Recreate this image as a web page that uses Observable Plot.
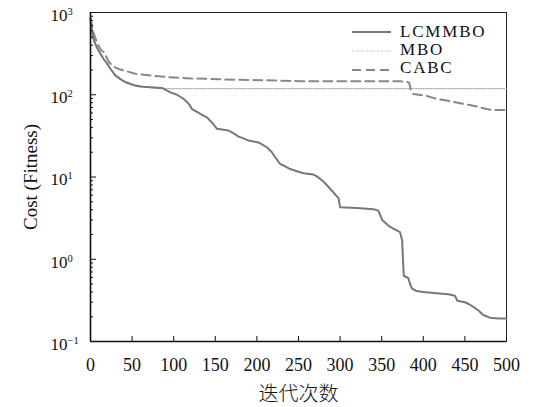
<!DOCTYPE html>
<html>
<head>
<meta charset="utf-8">
<script src="https://cdn.jsdelivr.net/npm/d3@7"></script>
<script src="https://cdn.jsdelivr.net/npm/@observablehq/plot@0.6"></script>
<style>
  html, body { margin: 0; padding: 0; background: #fff; }
</style>
</head>
<body>
<div id="chart"></div>
<script>
// ---- data ----
const lcmmboX = [0,2,5,8,12,16,20,25,30,36,42,48,54,62,72,86,96,104,112,118,122,128,132,140,146,152,166,172,178,184,190,202,212,218,222,228,234,240,250,256,268,272,276,282,288,292,296,298,300,320,340,346,348,350.5,354,358,364,372,374.5,376.5,382,384,386.5,392,400,416,430,438,441,450,456,461,466,472,480,490,500];
const lcmmboY = [850,550,430,370,314,270,238,200,171,155,142,135,129,125,123,121,107,100,89,78,67,62,58.6,53,46,38.5,36.7,34,31,29.5,27.7,26.3,23,20,17.4,14.4,13.5,12.5,11.6,11.1,10.7,10.2,9.5,8.4,7.2,6.5,5.8,5.6,4.3,4.2,4.05,3.9,3.5,3.0,2.8,2.57,2.35,2.14,1.7,0.63,0.59,0.5,0.44,0.41,0.40,0.385,0.375,0.36,0.313,0.30,0.28,0.26,0.24,0.21,0.195,0.19,0.19];

const mboX = [0,3,8,14,20,26,32,40,50,60,70,80,500];
const mboY = [820,520,380,290,235,195,168,148,135,128,124,119,119];

const cabcX = [0,3,6,10,13,16,19,22,26,30,34,44,54,64,74,94,114,140,180,220,252,300,372,380,383,385,388,404,410,416,428,436,444,456,468,476,481,500];
const cabcY = [850,600,480,390,345,330,290,250,228,214,206,192,180,175,171,163,159,156,152,149,146,146,146,144,140,115,102,97,93,89,85,82,79,75,70.6,67,65.5,65];

const xTicks = [0,50,100,150,200,250,300,350,400,450,500];
const yDecades = [0.1,1,10,100,1000];
const yExpLabels = ["\u22121","0","1","2","3"];
const yMinor = [];
for (const d of [0.1,1,10,100]) for (let k = 2; k <= 9; k++) yMinor.push(+(d*k).toPrecision(3));

const seriesNames = ["LCMMBO","MBO","CABC"];
const seriesStyles = {
  LCMMBO: {stroke: "#777", strokeWidth: 2, dash: null},
  MBO: {stroke: "#aaa", strokeWidth: 1.2, dash: "1,1.5"},
  CABC: {stroke: "#888", strokeWidth: 2, dash: "9,5"}
};

const toRows = (xs, ys) => xs.map((x, i) => ({x, y: ys[i]}));
const rows = {
  LCMMBO: toRows(lcmmboX, lcmmboY),
  MBO: toRows(mboX, mboY),
  CABC: toRows(cabcX, cabcY)
};

const serif = "Liberation Serif, Times New Roman, DejaVu Serif, serif";

const chart = Plot.plot({
  width: 533,
  height: 407,
  marginLeft: 90,
  marginRight: 27,
  marginTop: 12,
  marginBottom: 66,
  style: {fontFamily: serif, background: "#fff", color: "#111"},
  x: {domain: [0, 500]},
  y: {type: "log", domain: [0.1, 1000]},
  marks: [
    Plot.frame({stroke: "#222", strokeWidth: 1}),
    // lines
    Plot.line(rows.MBO, {x: "x", y: "y", stroke: seriesStyles.MBO.stroke, strokeWidth: seriesStyles.MBO.strokeWidth, strokeDasharray: seriesStyles.MBO.dash}),
    Plot.line(rows.CABC, {x: "x", y: "y", stroke: seriesStyles.CABC.stroke, strokeWidth: seriesStyles.CABC.strokeWidth, strokeDasharray: seriesStyles.CABC.dash}),
    Plot.line(rows.LCMMBO, {x: "x", y: "y", stroke: seriesStyles.LCMMBO.stroke, strokeWidth: seriesStyles.LCMMBO.strokeWidth}),
    // x axis
    Plot.axisX({ticks: xTicks, tickSize: -5, tickPadding: 22, tickFormat: d => String(d), fontSize: 18, fontFamily: serif, label: null, stroke: "#111"}),
    // y axis ticks
    Plot.axisY({ticks: yDecades, tickSize: -6, tickFormat: () => "", label: null, stroke: "#111"}),
    Plot.axisY({ticks: yMinor, tickSize: -3, tickFormat: () => "", label: null, stroke: "#111"}),
    // y tick labels: base and exponent
    Plot.text(yDecades, {y: d => d, text: () => "10", frameAnchor: "left", textAnchor: "end", dx: -23, dy: 3, fontSize: 17, fontFamily: serif, fill: "#111"}),
    Plot.text(yDecades, {y: d => d, text: (d, i) => yExpLabels[i], frameAnchor: "left", textAnchor: "start", dx: -23, dy: -1, fontSize: 10.5, fontFamily: serif, fill: "#111"}),
    // heavier left/bottom axis lines
    Plot.ruleX([0], {stroke: "#111", strokeWidth: 1.6}),
    Plot.ruleY([0.1], {stroke: "#111", strokeWidth: 1.6}),
    // axis titles
    Plot.text(["Cost (Fitness)"], {frameAnchor: "left", textAnchor: "middle", lineAnchor: "middle", rotate: -90, dx: -60, fontSize: 19, fontFamily: serif, fill: "#111"}),
    Plot.text(["迭代次数"], {frameAnchor: "bottom", textAnchor: "middle", lineAnchor: "middle", dy: 53, fontSize: 20, fontFamily: "Noto Sans CJK SC, sans-serif", fontWeight: 300, fill: "#111"})
  ]
});

document.getElementById("chart").appendChild(chart);

// legend inside plot (top-right)
const svg = d3.select(chart);
const leg = svg.append("g").attr("font-family", serif).attr("font-size", 17).attr("fill", "#111").attr("text-anchor", "start");
seriesNames.forEach((name, i) => {
  const s = seriesStyles[name];
  const lineY = [32, 51, 70][i];
  const textY = [31, 49, 67][i];
  leg.append("line")
    .attr("x1", 352).attr("x2", 391).attr("y1", lineY).attr("y2", lineY)
    .attr("stroke", s.stroke).attr("stroke-width", s.strokeWidth)
    .attr("stroke-dasharray", s.dash);
  leg.append("text")
    .attr("x", 400).attr("y", textY).attr("dy", "0.35em")
    .attr("text-anchor", "start")
    .attr("letter-spacing", "1.8px")
    .text(name);
});
</script>
</body>
</html>
